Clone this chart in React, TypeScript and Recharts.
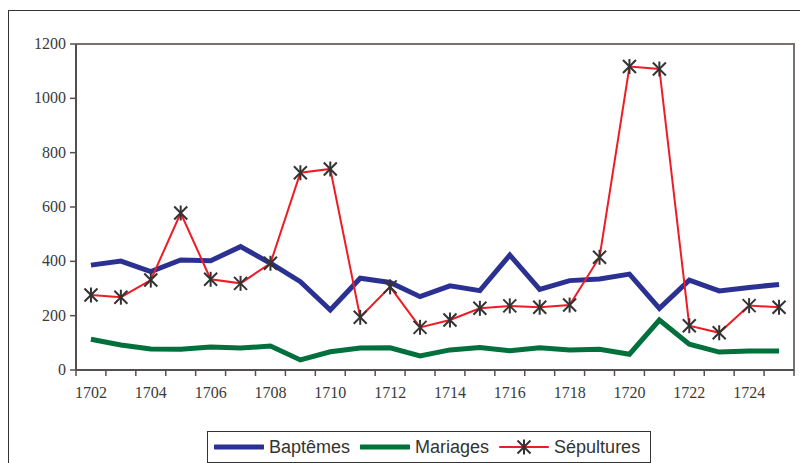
import { ComposedChart, Line, XAxis, YAxis, Legend } from 'recharts';

const years = [
  1702, 1703, 1704, 1705, 1706, 1707, 1708, 1709, 1710, 1711, 1712, 1713,
  1714, 1715, 1716, 1717, 1718, 1719, 1720, 1721, 1722, 1723, 1724, 1725,
];
const baptemes = [
  386, 401, 362, 405, 402, 454, 393, 325, 221, 338, 322, 270,
  310, 292, 423, 297, 329, 335, 353, 227, 331, 291, 304, 315,
];
const mariages = [
  113, 92, 77, 76, 85, 81, 88, 37, 67, 81, 82, 52,
  74, 83, 71, 82, 74, 76, 58, 184, 95, 66, 70, 70,
];
const sepultures = [
  276, 268, 331, 578, 334, 319, 393, 726, 740, 194, 306, 157,
  184, 227, 236, 231, 239, 415, 1117, 1108, 163, 137, 237, 231,
];
const yTicks = [0, 200, 400, 600, 800, 1000, 1200];

const data = years.map((year, i) => ({
  year,
  baptemes: baptemes[i],
  mariages: mariages[i],
  sepultures: sepultures[i],
}));

const BLUE = '#2b3192';
const GREEN = '#00703c';
const RED = '#ee1c25';
const MARK = '#333333';
const AXIS = '#555050';
const FRAME = '#7a7070';
const serif = '"Liberation Serif", "Times New Roman", serif';
const sans = '"Liberation Sans", Arial, sans-serif';

function Star(props: any) {
  const { cx, cy } = props;
  if (cx == null || cy == null) return null;
  const r = 6.5;
  return (
    <g stroke={MARK} strokeWidth={2}>
      <line x1={cx - r} y1={cy - r} x2={cx + r} y2={cy + r} />
      <line x1={cx - r} y1={cy + r} x2={cx + r} y2={cy - r} />
      <line x1={cx} y1={cy - r - 1} x2={cx} y2={cy + r + 1} />
    </g>
  );
}

function YearTick(props: any) {
  const { x, y, payload } = props;
  const half = payload.offset || 15;
  const last = payload.index === years.length - 1;
  return (
    <g>
      <line x1={x - half} y1={y - 8} x2={x - half} y2={y - 2} stroke={AXIS} strokeWidth={1.5} />
      {last && (
        <line x1={x + half} y1={y - 8} x2={x + half} y2={y - 2} stroke={AXIS} strokeWidth={1.5} />
      )}
      {payload.index % 2 === 0 && (
        <text x={x} y={y + 20} textAnchor="middle" fill="#3a3a3a" fontSize={16} fontFamily={serif}>
          {payload.value}
        </text>
      )}
    </g>
  );
}

function ValueTick(props: any) {
  const { x, y, payload } = props;
  return (
    <text x={x - 2} y={y} dy={5} textAnchor="end" fill="#3a3a3a" fontSize={16} fontFamily={serif}>
      {payload.value}
    </text>
  );
}

const legendItems = [
  { label: 'Baptêmes', color: BLUE, width: 5, star: false },
  { label: 'Mariages', color: GREEN, width: 5, star: false },
  { label: 'Sépultures', color: RED, width: 2, star: true },
];

function LegendBox() {
  return (
    <div
      style={{
        display: 'flex',
        alignItems: 'center',
        border: '1px solid #333',
        background: '#fff',
        height: 30,
        padding: '0 10px 0 6px',
        fontFamily: sans,
        fontSize: 18,
        color: '#333',
        whiteSpace: 'nowrap',
      }}
    >
      {legendItems.map((item, i) => (
        <div key={item.label} style={{ display: 'flex', alignItems: 'center', marginLeft: i === 0 ? 0 : 10 }}>
          <svg width={50} height={16} style={{ marginRight: 5 }}>
            <line x1={1} y1={8} x2={49} y2={8} stroke={item.color} strokeWidth={item.width} strokeLinecap="round" />
            {item.star && <Star cx={25} cy={8} />}
          </svg>
          <span>{item.label}</span>
        </div>
      ))}
    </div>
  );
}

export default function App() {
  return (
    <div style={{ position: 'absolute', left: 0, top: 0, width: 800, height: 463, background: '#fff' }}>
      <div
        style={{
          position: 'absolute',
          left: 8,
          top: 10,
          right: 0,
          bottom: 0,
          borderTop: '1.5px solid #333',
          borderLeft: '1.5px solid #333',
        }}
      />
      <div style={{ position: 'absolute', left: 76, top: 43, width: 719, height: 2, background: FRAME }} />
      <div style={{ position: 'absolute', left: 793, top: 43, width: 2, height: 328, background: FRAME }} />
      <div style={{ position: 'absolute', left: 0, top: 0, width: 800, height: 463 }}>
        <ComposedChart
          width={800}
          height={463}
          data={data}
          margin={{ top: 44, right: 6, bottom: 53, left: 0 }}
        >
          <XAxis
            dataKey="year"
            scale="band"
            interval={0}
            tickLine={false}
            axisLine={{ stroke: AXIS, strokeWidth: 2 }}
            tick={<YearTick />}
            height={40}
          />
          <YAxis
            domain={[0, 1200]}
            ticks={yTicks}
            width={76}
            interval={0}
            axisLine={{ stroke: AXIS, strokeWidth: 2 }}
            tickLine={{ stroke: AXIS, strokeWidth: 1.5 }}
            tickSize={6}
            tick={<ValueTick />}
          />
          <Line
            dataKey="baptemes"
            name="Baptêmes"
            stroke={BLUE}
            strokeWidth={5}
            dot={false}
            isAnimationActive={false}
          />
          <Line
            dataKey="mariages"
            name="Mariages"
            stroke={GREEN}
            strokeWidth={5}
            dot={false}
            isAnimationActive={false}
          />
          <Line
            dataKey="sepultures"
            name="Sépultures"
            stroke={RED}
            strokeWidth={2}
            dot={<Star />}
            activeDot={false}
            isAnimationActive={false}
          />
          <Legend
            layout="vertical"
            align="center"
            verticalAlign="middle"
            content={<LegendBox />}
            wrapperStyle={{ left: 207, top: 431, width: 'auto', height: 'auto' }}
          />
        </ComposedChart>
      </div>
    </div>
  );
}
